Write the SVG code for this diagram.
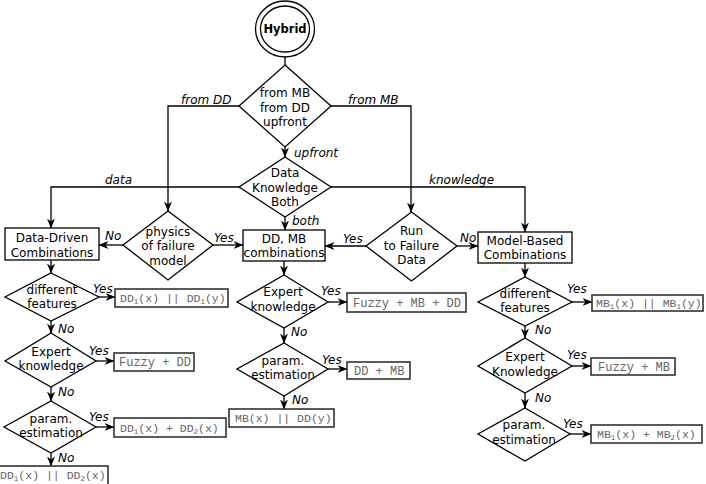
<svg xmlns="http://www.w3.org/2000/svg" width="706" height="484" viewBox="0 0 706 484">
<style>
.s{font-family:"DejaVu Sans",Verdana,sans-serif;font-size:12px;fill:#000;text-anchor:middle}
.b{font-weight:bold;font-size:11.5px}
.i{font-family:"DejaVu Sans",Verdana,sans-serif;font-size:12px;font-style:italic;fill:#000}
.m{font-family:"Liberation Mono","Courier New",monospace;font-size:11.5px;fill:#666}
.m12{font-size:12px}
.sub{font-size:7.5px;baseline-shift:-2px}
.sh{fill:#fff;stroke:#000;stroke-width:1.3}
.bx{fill:#fff;stroke:#333;stroke-width:1.6}
.c{fill:none;stroke:#000;stroke-width:1.3}
</style>
<defs>
<marker id="a" viewBox="0 0 10 8" refX="9.5" refY="4" markerWidth="10" markerHeight="8" markerUnits="userSpaceOnUse" orient="auto">
<path d="M0,0 L10,4 L0,8 L3,4 z" fill="#000"/>
</marker>
</defs>
<rect width="706" height="484" fill="#fff"/>
<g id="connectors">
<path class="c" d="M285,57 V65"/>
<path class="c" d="M239,106 H168 V211" marker-end="url(#a)"/>
<path class="c" d="M331,106 H411 V212" marker-end="url(#a)"/>
<path class="c" d="M285,147 V157" marker-end="url(#a)"/>
<path class="c" d="M239,187 H51 V228" marker-end="url(#a)"/>
<path class="c" d="M331,187 H525 V232" marker-end="url(#a)"/>
<path class="c" d="M285,217 V230" marker-end="url(#a)"/>
<path class="c" d="M123,245 H99" marker-end="url(#a)"/>
<path class="c" d="M213,245 H243" marker-end="url(#a)"/>
<path class="c" d="M366,246 H325" marker-end="url(#a)"/>
<path class="c" d="M457,246 H478" marker-end="url(#a)"/>
<path class="c" d="M51,260 V273" marker-end="url(#a)"/>
<path class="c" d="M99,297 H115" marker-end="url(#a)"/>
<path class="c" d="M51,321 V333" marker-end="url(#a)"/>
<path class="c" d="M96,361 H114" marker-end="url(#a)"/>
<path class="c" d="M51,387 V401" marker-end="url(#a)"/>
<path class="c" d="M96,427 H114" marker-end="url(#a)"/>
<path class="c" d="M51,453 V466" marker-end="url(#a)"/>
<path class="c" d="M284,261 V275" marker-end="url(#a)"/>
<path class="c" d="M328,302 H347" marker-end="url(#a)"/>
<path class="c" d="M284,328 V343" marker-end="url(#a)"/>
<path class="c" d="M328,369 H347" marker-end="url(#a)"/>
<path class="c" d="M284,396 V409" marker-end="url(#a)"/>
<path class="c" d="M525,263 V277" marker-end="url(#a)"/>
<path class="c" d="M572,302 H592" marker-end="url(#a)"/>
<path class="c" d="M525,326 V338" marker-end="url(#a)"/>
<path class="c" d="M572,366 H591" marker-end="url(#a)"/>
<path class="c" d="M525,393 V408" marker-end="url(#a)"/>
<path class="c" d="M570,434 H591" marker-end="url(#a)"/>
<text class="i" x="181" y="104">from DD</text>
<text class="i" x="348" y="104">from MB</text>
<text class="i" x="294" y="157">upfront</text>
<text class="i" x="105" y="184">data</text>
<text class="i" x="429" y="184">knowledge</text>
<text class="i" x="292" y="225">both</text>
<text class="i" x="105" y="240">No</text>
<text class="i" x="214" y="242">Yes</text>
<text class="i" x="343" y="243">Yes</text>
<text class="i" x="460" y="242">No</text>
<text class="i" x="93" y="292.5">Yes</text>
<text class="i" x="58" y="333">No</text>
<text class="i" x="89" y="355">Yes</text>
<text class="i" x="58" y="396">No</text>
<text class="i" x="89" y="421">Yes</text>
<text class="i" x="58" y="462">No</text>
<text class="i" x="321" y="295">Yes</text>
<text class="i" x="291" y="336">No</text>
<text class="i" x="322" y="363.5">Yes</text>
<text class="i" x="292" y="404">No</text>
<text class="i" x="567" y="293">Yes</text>
<text class="i" x="535" y="334">No</text>
<text class="i" x="567" y="358.5">Yes</text>
<text class="i" x="535" y="402">No</text>
<text class="i" x="563" y="428">Yes</text>
</g>
<g id="hybrid">
<ellipse class="sh" cx="285" cy="29" rx="29.5" ry="28"/>
<ellipse class="sh" cx="285" cy="29" rx="24.5" ry="23"/>
<text class="s b" x="285" y="33">Hybrid</text>
</g>
<g id="d-source">
<polygon class="sh" points="285,65 331,106 285,147 239,106"/>
<text class="s" x="285" y="97">from MB</text>
<text class="s" x="285" y="112">from DD</text>
<text class="s" x="285" y="126">upfront</text>
</g>
<g id="d-upfront">
<polygon class="sh" points="285,157 331,187 285,217 239,187"/>
<text class="s" x="285" y="177">Data</text>
<text class="s" x="285" y="192">Knowledge</text>
<text class="s" x="285" y="206">Both</text>
</g>
<g id="d-physics">
<polygon class="sh" points="168,211 213,245 168,280 123,245"/>
<text class="s" x="168" y="236">physics</text>
<text class="s" x="168" y="250">of failure</text>
<text class="s" x="168" y="265">model</text>
</g>
<g id="d-rtf">
<polygon class="sh" points="411.5,212 457,246 411.5,281 366,246"/>
<text class="s" x="411.5" y="235">Run</text>
<text class="s" x="411.5" y="250">to Failure</text>
<text class="s" x="411.5" y="264">Data</text>
</g>
<g id="b-dd">
<rect class="sh" x="5" y="228" width="94" height="32"/>
<text class="s" x="52" y="242">Data-Driven</text>
<text class="s" x="52" y="257">Combinations</text>
</g>
<g id="b-ddmb">
<rect class="sh" x="243" y="230" width="82" height="31"/>
<text class="s" x="284" y="243">DD, MB</text>
<text class="s" x="284" y="257">combinations</text>
</g>
<g id="b-mb">
<rect class="sh" x="478" y="232" width="94" height="31"/>
<text class="s" x="525" y="245">Model-Based</text>
<text class="s" x="525" y="259">Combinations</text>
</g>
<g id="d-dd-feat">
<polygon class="sh" points="51,273 99,297 51,321 5,297"/>
<text class="s" x="52" y="294">different</text>
<text class="s" x="52" y="308">features</text>
</g>
<g id="d-dd-exp">
<polygon class="sh" points="51,333 96,361 51,387 5,361"/>
<text class="s" x="51" y="355.5">Expert</text>
<text class="s" x="51" y="370">knowledge</text>
</g>
<g id="d-dd-param">
<polygon class="sh" points="51,401 96,427 51,453 4,427"/>
<text class="s" x="51" y="423">param.</text>
<text class="s" x="51" y="437">estimation</text>
</g>
<g id="d-mid-exp">
<polygon class="sh" points="284,275 328,302 284,328 237,302"/>
<text class="s" x="283" y="296">Expert</text>
<text class="s" x="283" y="311">knowledge</text>
</g>
<g id="d-mid-param">
<polygon class="sh" points="284,343 328,369 284,396 237,369"/>
<text class="s" x="283" y="364.5">param.</text>
<text class="s" x="283" y="378.5">estimation</text>
</g>
<g id="d-mb-feat">
<polygon class="sh" points="525,277 572,302 525,326 478,302"/>
<text class="s" x="525" y="298">different</text>
<text class="s" x="525" y="312">features</text>
</g>
<g id="d-mb-exp">
<polygon class="sh" points="525,338 572,366 525,393 478,366"/>
<text class="s" x="525" y="360.5">Expert</text>
<text class="s" x="525" y="375.5">Knowledge</text>
</g>
<g id="d-mb-param">
<polygon class="sh" points="525,408 570,434 525,461 478,434"/>
<text class="s" x="524" y="429">param.</text>
<text class="s" x="524" y="444">estimation</text>
</g>
<g id="r-dd-feat">
<rect class="bx" x="115" y="289" width="113" height="18"/>
<text class="m" x="120" y="302">DD<tspan class="sub">1</tspan>(x) || DD<tspan class="sub">1</tspan>(y)</text>
</g>
<g id="r-dd-exp">
<rect class="bx" x="114" y="353" width="80" height="18"/>
<text class="m m12" x="119" y="366">Fuzzy + DD</text>
</g>
<g id="r-dd-param">
<rect class="bx" x="114" y="418" width="112" height="19"/>
<text class="m" x="120" y="431.5">DD<tspan class="sub">1</tspan>(x) + DD<tspan class="sub">2</tspan>(x)</text>
</g>
<g id="r-dd-final">
<rect class="bx" x="-3" y="466" width="111" height="19"/>
<text class="m" x="0" y="479">DD<tspan class="sub">1</tspan>(x) || DD<tspan class="sub">2</tspan>(x)</text>
</g>
<g id="r-mid-exp">
<rect class="bx" x="347" y="293" width="119" height="19"/>
<text class="m m12" x="353" y="306.5">Fuzzy + MB + DD</text>
</g>
<g id="r-mid-param">
<rect class="bx" x="347" y="362" width="63" height="17"/>
<text class="m m12" x="354" y="375">DD + MB</text>
</g>
<g id="r-mid-final">
<rect class="bx" x="229" y="409" width="105" height="18"/>
<text class="m" x="235" y="422">MB(x) || DD(y)</text>
</g>
<g id="r-mb-feat">
<rect class="bx" x="592" y="295" width="111" height="16"/>
<text class="m" x="596" y="307">MB<tspan class="sub">1</tspan>(x) || MB<tspan class="sub">1</tspan>(y)</text>
</g>
<g id="r-mb-exp">
<rect class="bx" x="591" y="358" width="84" height="17"/>
<text class="m m12" x="598" y="371">Fuzzy + MB</text>
</g>
<g id="r-mb-param">
<rect class="bx" x="591" y="425" width="111" height="18"/>
<text class="m" x="597" y="438">MB<tspan class="sub">1</tspan>(x) + MB<tspan class="sub">2</tspan>(x)</text>
</g>
</svg>
